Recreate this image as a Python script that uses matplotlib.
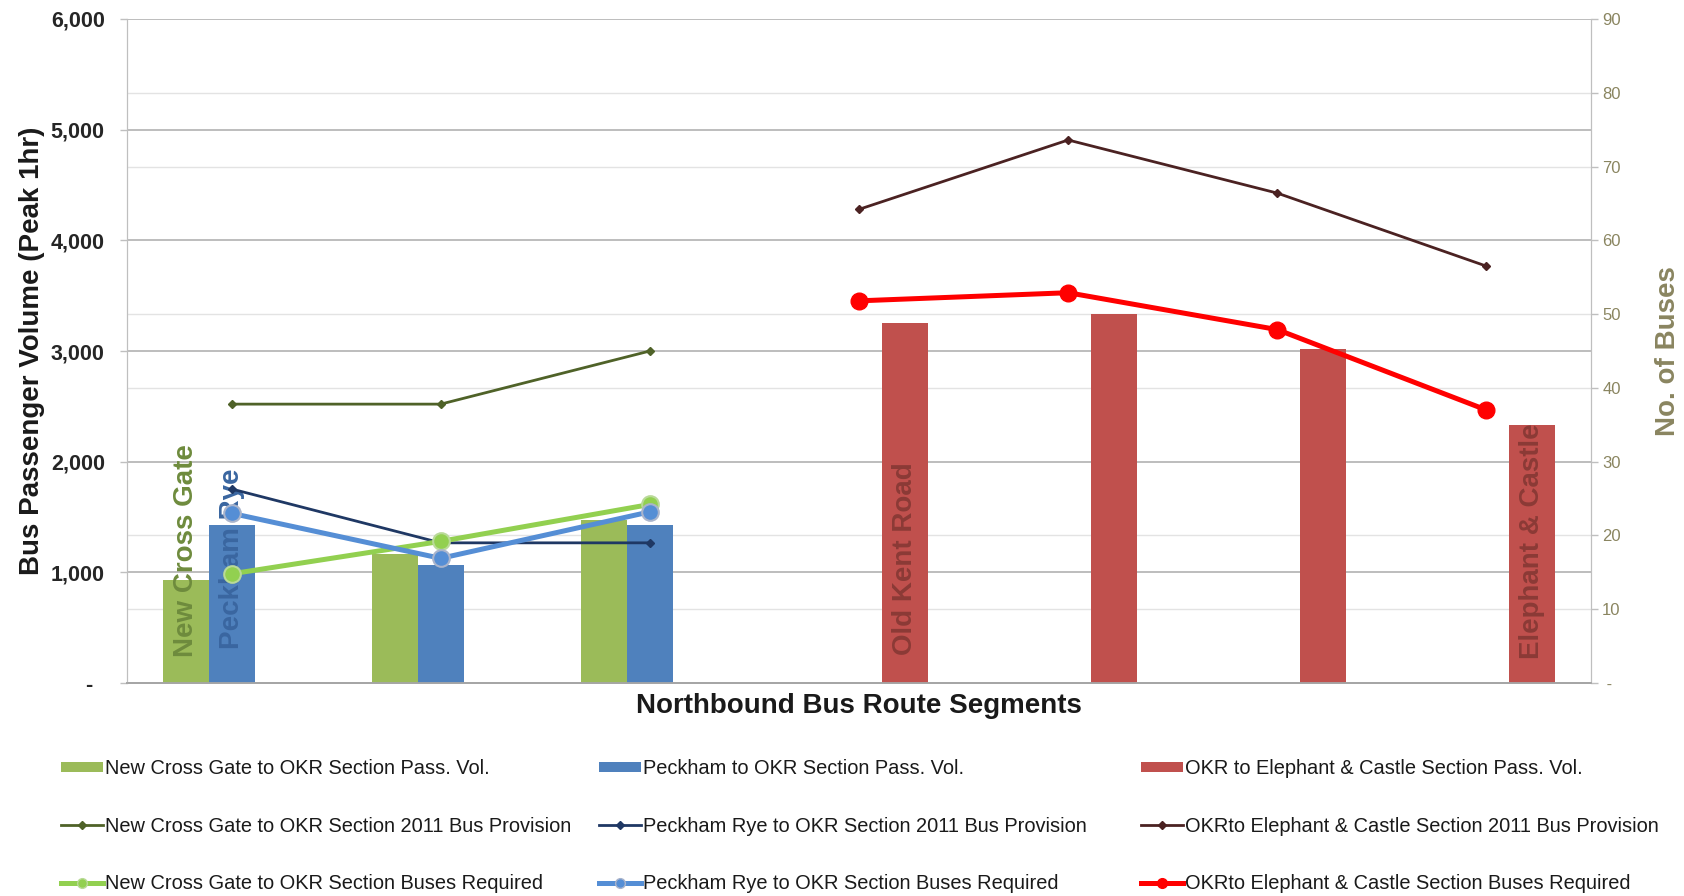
import numpy as np
import matplotlib
matplotlib.use("Agg")
import matplotlib.pyplot as plt
from matplotlib.patches import Patch
from matplotlib.lines import Line2D
from matplotlib.ticker import FuncFormatter, MultipleLocator

plt.rcParams['font.family'] = ['Liberation Sans', 'DejaVu Sans']

# Route segments along the northbound corridor (7 segments)
segments = np.arange(7)
ncg_segments = segments[0:3]
okr_segments = segments[3:7]

# Passenger volumes (peak hour, left axis)
ncg_volume = [930, 1170, 1470]
peckham_volume = [1430, 1065, 1430]
okr_volume = [3250, 3330, 3020, 2330]

# Number of buses (right axis)
ncg_provision_2011 = [37.8, 37.8, 45.0]
peckham_provision_2011 = [26.3, 19.0, 19.0]
okr_provision_2011 = [64.2, 73.6, 66.4, 56.5]
ncg_required = [14.8, 19.2, 24.2]
peckham_required = [23.0, 16.9, 23.2]
okr_required = [51.8, 52.9, 47.9, 37.0]

# Place-name annotations: (text, segment, side offset index, baseline value, colour)
place_labels = [
    ("New Cross Gate", 0, -1, 235, '#6E8B3D'),
    ("Peckham Rye", 0, 0, 310, '#3A66A0'),
    ("Old Kent Road", 3, 1, 250, '#8B3A36'),
    ("Elephant & Castle", 6, 1, 215, '#8B3A36'),
]

legend_names = {
    'ncg_vol': "New Cross Gate to OKR Section Pass. Vol.",
    'pk_vol': "Peckham to OKR Section Pass. Vol.",
    'okr_vol': "OKR to Elephant & Castle Section Pass. Vol.",
    'ncg_prov': "New Cross Gate to OKR Section 2011 Bus Provision",
    'pk_prov': "Peckham Rye to OKR Section 2011 Bus Provision",
    'okr_prov': "OKRto Elephant & Castle Section 2011 Bus Provision",
    'ncg_req': "New Cross Gate to OKR Section Buses Required",
    'pk_req': "Peckham Rye to OKR Section Buses Required",
    'okr_req': "OKRto Elephant & Castle Section Buses Required",
}

C_NCG_BAR, C_PK_BAR, C_OKR_BAR = '#9BBB59', '#4F81BD', '#C0504D'
C_NCG_PROV, C_PK_PROV, C_OKR_PROV = '#4F6228', '#1F3864', '#4B2222'
C_NCG_REQ, C_PK_REQ, C_OKR_REQ = '#92D050', '#558ED5', '#FF0000'
OLIVE = '#8A8560'

bar_w = 0.22

fig = plt.figure(figsize=(16.84, 8.96), dpi=100)
ax = fig.add_axes([0.0754, 0.2377, 0.8694, 0.7411])
ax2 = ax.twinx()

# Bars (left axis)
ax.bar(ncg_segments - bar_w, ncg_volume, width=bar_w, color=C_NCG_BAR, zorder=3)
ax.bar(ncg_segments, peckham_volume, width=bar_w, color=C_PK_BAR, zorder=3)
ax.bar(okr_segments + bar_w, okr_volume, width=bar_w, color=C_OKR_BAR, zorder=3)

ax.set_xlim(-0.5, 6.5)
ax.set_ylim(0, 6000)
ax2.set_ylim(0, 90)

# Grid: thousands on the left scale, tens of buses on the right scale (behind bars)
ax.yaxis.set_major_locator(MultipleLocator(1000))
ax.set_yticks(np.linspace(0, 6000, 10), minor=True)
ax.grid(axis='y', which='minor', color='#E3E3E3', lw=1.0, zorder=0)
ax.grid(axis='y', which='major', color='#B8B8B8', lw=1.3, zorder=0)
ax.tick_params(axis='y', which='minor', length=0)
ax.set_xticks([])

ax2.yaxis.set_major_locator(MultipleLocator(10))

def left_fmt(v, _):
    return "-  " if v == 0 else f"{v:,.0f}"

def right_fmt(v, _):
    return " -" if v == 0 else f"{v:.0f}"

ax.yaxis.set_major_formatter(FuncFormatter(left_fmt))
ax2.yaxis.set_major_formatter(FuncFormatter(right_fmt))
ax.tick_params(axis='y', which='major', length=5, color='#BFBFBF', width=1,
               labelsize=15.5, labelcolor='#262626', pad=11)
for lab in ax.get_yticklabels():
    lab.set_fontweight('bold')
ax2.tick_params(axis='y', length=5, color='#BFBFBF', width=1,
                labelsize=12, labelcolor=OLIVE, pad=3)

for a in (ax, ax2):
    a.spines['top'].set_visible(False)
    a.spines['left'].set_color('#BFBFBF')
    a.spines['right'].set_color('#BFBFBF')
    a.spines['bottom'].set_color('#A6A6A6')
    a.spines['bottom'].set_linewidth(1.3)

# Place-name labels along the bars
for text, seg, side, base, col in place_labels:
    ax.text(seg + side * bar_w, base, text, rotation=90, ha='center', va='bottom',
            fontsize=20, fontweight='bold', color=col, zorder=4)

# Lines (right axis)
ax2.plot(ncg_segments, ncg_provision_2011, color=C_NCG_PROV, lw=2, marker='D', ms=4, zorder=5)
ax2.plot(ncg_segments, peckham_provision_2011, color=C_PK_PROV, lw=2, marker='D', ms=4, zorder=5)
ax2.plot(okr_segments, okr_provision_2011, color=C_OKR_PROV, lw=2, marker='D', ms=4, zorder=5)
ax2.plot(ncg_segments, ncg_required, color=C_NCG_REQ, lw=3.6, marker='o', ms=12,
         mfc=C_NCG_REQ, mec='#B9DA98', mew=1.5, zorder=6)
ax2.plot(ncg_segments, peckham_required, color=C_PK_REQ, lw=3.6, marker='o', ms=12,
         mfc=C_PK_REQ, mec='#A9B4CC', mew=1.5, zorder=6)
ax2.plot(okr_segments, okr_required, color=C_OKR_REQ, lw=3.6, marker='o', ms=12,
         mfc=C_OKR_REQ, mec=C_OKR_REQ, zorder=6)

# Axis titles
ax.set_ylabel("Bus Passenger Volume (Peak 1hr)", fontsize=20, fontweight='bold', color='#1A1A1A')
ax.yaxis.set_label_coords(-0.056, 0.5)
ax2.set_ylabel("No. of Buses", fontsize=20, fontweight='bold', color=OLIVE)
ax2.yaxis.set_label_coords(1.044, 0.5)
ax.set_xlabel("Northbound Bus Route Segments", fontsize=20, fontweight='bold', color='#1A1A1A',
              labelpad=7)

# Legend: three columns, one per corridor section
def col_handles(bar_c, prov_c, req_c, req_edge):
    return [
        Patch(facecolor=bar_c, edgecolor='none'),
        Line2D([], [], color=prov_c, lw=2, marker='D', ms=4),
        Line2D([], [], color=req_c, lw=3.6, marker='o', ms=7, mfc=req_c, mec=req_edge, mew=1),
    ]

columns = [
    (0.0362, col_handles(C_NCG_BAR, C_NCG_PROV, C_NCG_REQ, '#B9DA98'),
     [legend_names['ncg_vol'], legend_names['ncg_prov'], legend_names['ncg_req']]),
    (0.3557, col_handles(C_PK_BAR, C_PK_PROV, C_PK_REQ, '#A9B4CC'),
     [legend_names['pk_vol'], legend_names['pk_prov'], legend_names['pk_req']]),
    (0.6776, col_handles(C_OKR_BAR, C_OKR_PROV, C_OKR_REQ, C_OKR_REQ),
     [legend_names['okr_vol'], legend_names['okr_prov'], legend_names['okr_req']]),
]
for x0, handles, labels in columns:
    leg = fig.legend(handles, labels, loc='center left', bbox_to_anchor=(x0, 0.0781),
                     bbox_transform=fig.transFigure, frameon=False, fontsize=14.4,
                     handlelength=2.1, handleheight=0.45, handletextpad=0.1,
                     labelspacing=1.92, borderpad=0, borderaxespad=0)
    for t in leg.get_texts():
        t.set_color('#1A1A1A')

fig.savefig("out.png", dpi=100, facecolor='white')
